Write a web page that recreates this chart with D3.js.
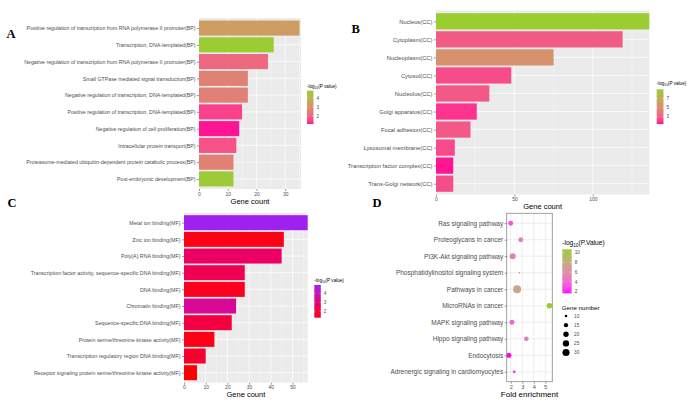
<!DOCTYPE html>
<html>
<head>
<meta charset="utf-8">
<script src="https://cdn.jsdelivr.net/npm/d3@7/dist/d3.min.js"></script>
<style>
  body { margin: 0; background: #fff; }
  text { font-family: "Liberation Sans", Arial, sans-serif; }
</style>
</head>
<body>
<svg id="chart" width="695" height="401"></svg>
<script>

// ---- data ----
var bpTerms = [
  "Positive regulation of transcription from RNA polymerase II promoter(BP)",
  "Transcription, DNA-templated(BP)",
  "Negative regulation of transcription from RNA polymerase II promoter(BP)",
  "Small GTPase mediated signal transduction(BP)",
  "Negative regulation of transcription, DNA-templated(BP)",
  "Positive regulation of transcription, DNA-templated(BP)",
  "Negative regulation of cell proliferation(BP)",
  "Intracellular protein transport(BP)",
  "Proteasome-mediated ubiquitin-dependent protein catabolic process(BP)",
  "Post-embryonic development(BP)"
];
var bpCounts = [35, 26, 24, 17, 17, 15, 14, 13, 12, 12];
var bpLogP = [3.3, 4.8, 2.1, 2.6, 2.6, 1.5, 1.15, 1.7, 2.6, 4.7];

var ccTerms = [
  "Nucleus(CC)", "Cytoplasm(CC)", "Nucleoplasm(CC)", "Cytosol(CC)", "Nucleolus(CC)",
  "Golgi apparatus(CC)", "Focal adhesion(CC)", "Lysosomal membrane(CC)",
  "Transcription factor complex(CC)", "Trans-Golgi network(CC)"
];
var ccCounts = [136, 119, 75, 48, 34, 26, 22, 12, 11, 11];
var ccLogP = [9.1, 2.9, 5.3, 2.4, 2.8, 1.8, 2.8, 2.3, 1.4, 2.4];

var mfTerms = [
  "Metal ion binding(MF)", "Zinc ion binding(MF)", "Poly(A) RNA binding(MF)",
  "Transcription factor activity, sequence-specific DNA binding(MF)",
  "DNA binding(MF)", "Chromatin binding(MF)", "Sequence-specific DNA binding(MF)",
  "Protein serine/threonine kinase activity(MF)",
  "Transcription regulatory region DNA binding(MF)",
  "Receptor signaling protein serine/threonine kinase activity(MF)"
];
var mfCounts = [57, 46, 45, 28, 28, 24, 22, 14, 10, 6];
var mfLogP = [5.0, 1.4, 2.6, 2.3, 1.5, 3.5, 2.0, 1.4, 1.7, 1.23];

var keggTerms = [
  "Ras signaling pathway", "Proteoglycans in cancer", "PI3K-Akt signaling pathway",
  "Phosphatidylinositol signaling system", "Pathways in cancer", "MicroRNAs in cancer",
  "MAPK signaling pathway", "Hippo signaling pathway", "Endocytosis",
  "Adrenergic signaling in cardiomyocytes"
];
var keggFold = [2.0, 2.87, 2.17, 2.75, 2.55, 5.35, 2.1, 3.35, 1.83, 2.3];
var keggGenes = [18, 18, 23, 8, 36, 21, 18, 17, 19, 11];
var keggLogP = [3.0, 5.0, 5.0, 4.5, 7.5, 10.7, 3.5, 5.0, 1.67, 3.0];

var sizeLegend = [10, 15, 20, 25, 30];

var svg = d3.select("#chart");
var defs = svg.append("defs");

// colour scale like ggplot's scale_fill_gradient (Lab space)
function gradient(values, low, high) {
  return d3.scaleLinear()
    .domain(d3.extent(values))
    .range([low, high])
    .interpolate(d3.interpolateLab);
}

function legendTitle(g, x, y, size, label) {
  var t = g.append("text")
    .attr("x", x).attr("y", y)
    .style("font-size", size + "px")
    .attr("fill", "#000");
  t.append("tspan").text("-log");
  t.append("tspan").text("10")
    .style("font-size", (size * 0.7) + "px")
    .attr("dy", size * 0.25);
  t.append("tspan").text(label)
    .attr("dy", -size * 0.25);
}

// colourbar legend
function colorbar(id, color, o) {
  var dom = color.domain();
  var grad = defs.append("linearGradient")
    .attr("id", id)
    .attr("x1", 0).attr("y1", 1).attr("x2", 0).attr("y2", 0);
  d3.range(0, 1.001, 0.1).forEach(function (t) {
    grad.append("stop")
      .attr("offset", t)
      .attr("stop-color", color(dom[0] + t * (dom[1] - dom[0])));
  });

  var ly = d3.scaleLinear().domain(dom).range([o.bottom, o.top]);
  var g = svg.append("g");

  legendTitle(g, o.x, o.titleY, o.titleSize, o.titleText);

  g.append("rect")
    .attr("x", o.x).attr("y", o.top)
    .attr("width", o.w).attr("height", o.bottom - o.top)
    .attr("fill", "url(#" + id + ")");

  o.ticks.forEach(function (v) {
    g.append("line")
      .attr("x1", o.x).attr("x2", o.x + o.w * 0.2)
      .attr("y1", ly(v)).attr("y2", ly(v))
      .attr("stroke", "#fff").attr("stroke-width", 0.4);
    g.append("line")
      .attr("x1", o.x + o.w * 0.8).attr("x2", o.x + o.w)
      .attr("y1", ly(v)).attr("y2", ly(v))
      .attr("stroke", "#fff").attr("stroke-width", 0.4);
    g.append("text")
      .attr("x", o.x + o.w + 3)
      .attr("y", ly(v))
      .attr("dy", "0.35em")
      .style("font-size", o.labelSize + "px")
      .attr("fill", "#4D4D4D")
      .text(v);
  });
}

function panelLetter(letter, x, y) {
  svg.append("text")
    .attr("x", x).attr("y", y)
    .style("font-family", "'Liberation Serif', 'Times New Roman', serif")
    .style("font-weight", "bold")
    .style("font-size", "12.5px")
    .text(letter);
}

/*
* horizontal bar panel in ggplot grey theme
*/
function drawBars(terms, counts, logp, o) {
  var x = d3.scaleLinear().domain([0, o.xMax]).range([o.x0, o.x1]);
  var y = d3.scalePoint().domain(terms).range([o.y0, o.y1]).padding(0.6);
  var step = y.step();
  var color = gradient(logp, o.low, o.high);
  var g = svg.append("g");

  g.append("rect")
    .attr("x", o.x0).attr("y", o.y0)
    .attr("width", o.x1 - o.x0).attr("height", o.y1 - o.y0)
    .attr("fill", "#EBEBEB");

  // grid
  g.selectAll(".minor").data(o.minor).enter().append("line")
    .attr("x1", d => x(d)).attr("x2", d => x(d))
    .attr("y1", o.y0).attr("y2", o.y1)
    .attr("stroke", "#fff").attr("stroke-width", 0.35);
  g.selectAll(".major").data(o.ticks).enter().append("line")
    .attr("x1", d => x(d)).attr("x2", d => x(d))
    .attr("y1", o.y0).attr("y2", o.y1)
    .attr("stroke", "#fff").attr("stroke-width", 0.7);
  g.selectAll(".hgrid").data(terms).enter().append("line")
    .attr("x1", o.x0).attr("x2", o.x1)
    .attr("y1", d => y(d)).attr("y2", d => y(d))
    .attr("stroke", "#fff").attr("stroke-width", 0.7);

  g.selectAll(".bar").data(terms).enter().append("rect")
    .attr("x", x(0))
    .attr("y", d => y(d) - step * 0.45)
    .attr("width", (d, i) => Math.min(x(counts[i]), o.x1) - x(0))
    .attr("height", step * 0.9)
    .attr("fill", (d, i) => color(logp[i]));

  // axes
  var xAxis = d3.axisBottom(x).tickValues(o.ticks).tickSize(2).tickPadding(1);
  var ax = g.append("g").attr("transform", "translate(0," + o.y1 + ")").call(xAxis);
  var yAxis = d3.axisLeft(y).tickSize(2).tickPadding(1.5);
  var ay = g.append("g").attr("transform", "translate(" + o.x0 + ",0)").call(yAxis);
  [ax, ay].forEach(function (a) {
    a.select(".domain").remove();
    a.selectAll(".tick line").attr("stroke", "#333").attr("stroke-width", 0.5);
    a.selectAll("text").attr("fill", "#4D4D4D")
      .style("font-family", "'Liberation Sans', Arial, sans-serif");
  });
  ax.selectAll("text").style("font-size", o.tickSize + "px");
  ay.selectAll("text").style("font-size", o.labelSize + "px");

  g.append("text")
    .attr("x", (o.x0 + o.x1) / 2)
    .attr("y", o.titleY)
    .attr("text-anchor", "middle")
    .style("font-size", "7.5px")
    .text("Gene count");

  colorbar(o.id, color, o.legend);
}

drawBars(bpTerms, bpCounts, bpLogP, {
  id: "gA", x0: 199, x1: 301, y0: 18, y1: 189, xMax: 35.5,
  ticks: [0, 10, 20, 30], minor: [5, 15, 25, 35],
  low: "#FF1493", high: "#9ACD32",
  labelSize: 5.25, tickSize: 5, titleY: 203.5,
  legend: { x: 307, w: 6.5, top: 90.7, bottom: 124, ticks: [2, 3, 4],
            titleY: 88, titleSize: 4.6, titleText: "(P value)", labelSize: 4.6 }
});

drawBars(ccTerms, ccCounts, ccLogP, {
  id: "gB", x0: 436, x1: 649.3, y0: 10.5, y1: 194.5, xMax: 136,
  ticks: [0, 50, 100], minor: [25, 75, 125],
  low: "#FF1493", high: "#9ACD32",
  labelSize: 5.8, tickSize: 5, titleY: 208.5,
  legend: { x: 656.7, w: 6.8, top: 89.3, bottom: 124, ticks: [3, 5, 7],
            titleY: 85, titleSize: 4.6, titleText: "(P value)", labelSize: 4.6 }
});

drawBars(mfTerms, mfCounts, mfLogP, {
  id: "gC", x0: 184, x1: 307.7, y0: 212.7, y1: 382.7, xMax: 57,
  ticks: [0, 10, 20, 30, 40, 50], minor: [5, 15, 25, 35, 45, 55],
  low: "#FF0000", high: "#A020F0",
  labelSize: 5.3, tickSize: 5, titleY: 396.5,
  legend: { x: 314.3, w: 6.5, top: 285, bottom: 317.7, ticks: [2, 3, 4],
            titleY: 282, titleSize: 4.6, titleText: "(P value)", labelSize: 4.6 }
});

// ---- panel D: KEGG bubble plot (theme_bw) ----
(function () {
  var o = { x0: 506.7, x1: 552.3, y0: 213.3, y1: 381.7 };
  var x = d3.scaleLinear().domain([1.65, 5.6]).range([o.x0, o.x1]);
  var y = d3.scalePoint().domain(keggTerms).range([o.y0, o.y1]).padding(0.6);
  var color = gradient(keggLogP, "#FF00FF", "#9ACD32");
  var gExt = d3.extent(keggGenes);
  var area = d3.scaleLinear().domain(gExt).range([0.8 * 0.8, 4 * 4]);
  var r = function (v) { return Math.sqrt(Math.max(area(v), 0.3)); };
  var g = svg.append("g");

  g.append("rect")
    .attr("x", o.x0).attr("y", o.y0)
    .attr("width", o.x1 - o.x0).attr("height", o.y1 - o.y0)
    .attr("fill", "#fff");

  g.selectAll(".minor").data([2.5, 3.5, 4.5, 5.5]).enter().append("line")
    .attr("x1", d => x(d)).attr("x2", d => x(d))
    .attr("y1", o.y0).attr("y2", o.y1)
    .attr("stroke", "#F0F0F0").attr("stroke-width", 0.4);
  g.selectAll(".major").data([2, 3, 4, 5]).enter().append("line")
    .attr("x1", d => x(d)).attr("x2", d => x(d))
    .attr("y1", o.y0).attr("y2", o.y1)
    .attr("stroke", "#E6E6E6").attr("stroke-width", 0.7);
  g.selectAll(".hgrid").data(keggTerms).enter().append("line")
    .attr("x1", o.x0).attr("x2", o.x1)
    .attr("y1", d => y(d)).attr("y2", d => y(d))
    .attr("stroke", "#E6E6E6").attr("stroke-width", 0.7);

  defs.append("clipPath").attr("id", "clipD")
    .append("rect")
    .attr("x", o.x0).attr("y", o.y0)
    .attr("width", o.x1 - o.x0).attr("height", o.y1 - o.y0);

  g.append("g").attr("clip-path", "url(#clipD)")
    .selectAll("circle").data(keggTerms).enter().append("circle")
    .attr("cx", (d, i) => x(keggFold[i]))
    .attr("cy", d => y(d))
    .attr("r", (d, i) => r(keggGenes[i]))
    .attr("fill", (d, i) => color(keggLogP[i]));

  g.append("rect")
    .attr("x", o.x0).attr("y", o.y0)
    .attr("width", o.x1 - o.x0).attr("height", o.y1 - o.y0)
    .attr("fill", "none").attr("stroke", "#8C8C8C").attr("stroke-width", 0.8);

  var ax = g.append("g").attr("transform", "translate(0," + o.y1 + ")")
    .call(d3.axisBottom(x).tickValues([2, 3, 4, 5]).tickFormat(d3.format("d"))
      .tickSize(2).tickPadding(1.5));
  var ay = g.append("g").attr("transform", "translate(" + o.x0 + ",0)")
    .call(d3.axisLeft(y).tickSize(2).tickPadding(1.5));
  [ax, ay].forEach(function (a) {
    a.select(".domain").remove();
    a.selectAll(".tick line").attr("stroke", "#333").attr("stroke-width", 0.5);
    a.selectAll("text").attr("fill", "#4D4D4D")
      .style("font-family", "'Liberation Sans', Arial, sans-serif");
  });
  ax.selectAll("text").style("font-size", "5.5px");
  ay.selectAll("text").style("font-size", "6.5px");

  g.append("text")
    .attr("x", (o.x0 + o.x1) / 2).attr("y", 397)
    .attr("text-anchor", "middle")
    .style("font-size", "8px")
    .text("Fold enrichment");

  colorbar("gD", color, {
    x: 562.3, w: 9.4, top: 249.3, bottom: 293.3, ticks: [2, 4, 6, 8, 10],
    titleY: 245, titleSize: 6.6, titleText: "(P.Value)", labelSize: 4.8
  });

  // size legend
  var sl = svg.append("g");
  sl.append("text")
    .attr("x", 561.7).attr("y", 310)
    .style("font-size", "6.2px")
    .text("Gene number");
  var ys = d3.scalePoint().domain(sizeLegend).range([316, 352.5]);
  sl.selectAll("circle").data(sizeLegend).enter().append("circle")
    .attr("cx", 566).attr("cy", d => ys(d))
    .attr("r", d => r(d))
    .attr("fill", "#000");
  sl.selectAll(".lab").data(sizeLegend).enter().append("text")
    .attr("x", 574).attr("y", d => ys(d)).attr("dy", "0.35em")
    .style("font-size", "4.8px")
    .attr("fill", "#4D4D4D")
    .text(d => d);
})();

panelLetter("A", 6.5, 38);
panelLetter("B", 351.5, 33);
panelLetter("C", 7.5, 206.7);
panelLetter("D", 372.5, 206.7);

</script>
</body>
</html>
